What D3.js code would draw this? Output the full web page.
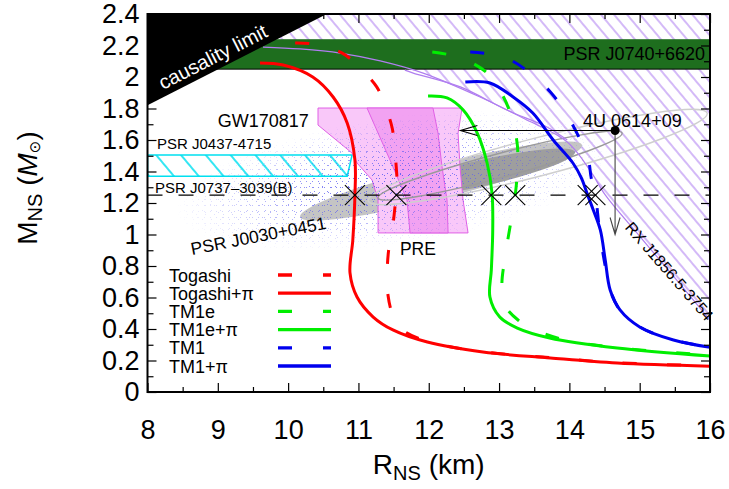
<!DOCTYPE html>
<html>
<head>
<meta charset="utf-8">
<script src="https://cdn.jsdelivr.net/npm/d3@7"></script>
<style>
  body { margin: 0; background: #fff; }
  svg { display: block; font-family: "Liberation Sans", Arial, Helvetica, sans-serif; }
</style>
</head>
<body>
<svg id="chart" width="729" height="489"></svg>
<script>
// --- values: [radius (km), mass (Msun)]
const togashi = [[10.10,2.216],[10.34,2.21],[10.77,2.152],[11.02,2.057],[11.26,1.937],[11.39,1.803],[11.48,1.676],[11.53,1.473],[11.55,1.295],[11.53,1.219],[11.49,1.06],[11.43,0.902],[11.41,0.775],[11.42,0.616],[11.49,0.489],[11.63,0.394],[12.02,0.317],[12.77,0.256],[13.73,0.218],[14.68,0.186],[16.0,0.166]]
const togashiPi = [[9.60,2.089],[9.93,2.076],[10.35,2.0],[10.64,1.873],[10.84,1.708],[10.95,1.473],[10.95,1.251],[10.92,0.965],[10.88,0.756],[10.98,0.603],[11.21,0.476],[11.49,0.394],[11.98,0.317],[12.77,0.254],[13.73,0.216],[14.68,0.184],[16.0,0.164]]
const tm1e = [[12.05,2.159],[12.30,2.14],[12.59,2.095],[12.83,2.025],[13.01,1.917],[13.16,1.771],[13.26,1.568],[13.26,1.41],[13.23,1.251],[13.16,1.06],[13.09,0.87],[13.04,0.679],[13.08,0.552],[13.27,0.457],[13.51,0.394],[13.94,0.33],[14.68,0.281],[16.0,0.234]]
const tm1ePi = [[11.99,1.879],[12.26,1.867],[12.49,1.79],[12.69,1.644],[12.83,1.454],[12.90,1.263],[12.91,1.029],[12.89,0.775],[12.87,0.603],[13.01,0.476],[13.26,0.406],[13.72,0.343],[14.68,0.279],[16.0,0.228]]
const tm1 = [[12.59,2.159],[12.87,2.146],[13.16,2.108],[13.44,2.025],[13.73,1.905],[13.94,1.778],[14.12,1.632],[14.27,1.473],[14.31,1.36],[14.37,1.25],[14.42,1.06],[14.47,0.902],[14.51,0.80],[14.58,0.648],[14.72,0.521],[15.0,0.413],[15.48,0.33],[16.0,0.285]]
const tm1Pi = [[12.52,1.968],[12.87,1.962],[13.20,1.873],[13.48,1.771],[13.77,1.60],[14.05,1.454],[14.17,1.36],[14.26,1.25],[14.34,1.156],[14.44,1.029],[14.51,0.838],[14.58,0.648],[14.72,0.521],[15.0,0.413],[15.48,0.33],[16.0,0.284]]

const seriesNames = ['Togashi', 'Togashi+\u03c0', 'TM1e', 'TM1e+\u03c0', 'TM1', 'TM1+\u03c0']
const seriesData = [togashi, togashiPi, tm1e, tm1ePi, tm1, tm1Pi]
const seriesColors = ['#ff0000', '#ff0000', '#00ee00', '#00ee00', '#0000ee', '#0000ee']
const seriesDashed = [true, false, true, false, true, false]

// observational constraints
const causalityLine = [[8, 1.82], [10.55, 2.4]]
const j0740Mass = [2.05, 2.24]
const j0437Box = [[8, 1.505], [10.91, 1.505], [10.84, 1.37], [8, 1.37]]
const j0737Mass = 1.25
const crossR = [10.95, 11.54, 12.89, 13.23, 14.26, 14.37]
const rxBoundary = [[9.643,2.19],[10.17,2.178],[10.74,2.152],[11.31,2.102],[11.92,2.025],[12.73,1.873],[13.34,1.74],[13.97,1.587],[14.29,1.41],[14.51,1.251],[15.01,0.984],[15.50,0.724],[16.0,0.457]]
const rxInner = [[11.66,2.044],[11.78,2.025],[12.45,1.937],[13.11,1.79],[13.68,1.683],[13.97,1.60]]
const preOuter = [[10.425,1.803],[12.474,1.803],[12.417,1.644],[12.445,1.429],[12.488,1.219],[12.559,1.01],[11.279,1.01],[11.279,1.219],[11.194,1.346],[10.98,1.454],[10.909,1.517],[10.425,1.695]]
const preInner = [[11.122,1.803],[12.06,1.803],[12.132,1.644],[12.189,1.429],[12.26,1.219],[12.275,1.01],[11.734,1.01],[11.691,1.219],[11.449,1.473],[11.279,1.644]]
const j0030Outer = [[10.17,1.111],[14.18,1.568]]
const j0030Inner = [[11.38,1.251],[14.08,1.524]]
const u0614Inner = [[11.28,1.232],[14.75,1.644]]
const u0614Outer = [[11.14,1.213],[15.96,1.771]]
const u0614Point = [14.65, 1.66]
const u0614ArrowR = 12.45
const rxArrowM = 1.0
const gwCloudCentre = [11.5, 1.34]

const xTicks = d3.range(8, 16.01, 1)
const xMinor = d3.range(8.5, 16, 1)
const yTicks = d3.range(0, 2.41, 0.2)
const yMinor = d3.range(0.1, 2.4, 0.2)

// --- setup
const svg = d3.select('#chart')
const x = d3.scaleLinear().domain([8, 16]).range([147.5, 710])
const y = d3.scaleLinear().domain([0, 2.4]).range([392, 14])
const px = ([r, m]) => [x(r), y(m)]
const poly = d3.line().x(d => x(d[0])).y(d => y(d[1]))

const defs = svg.append('defs')
defs.append('clipPath').attr('id', 'plot')
  .append('rect').attr('x', x(8)).attr('y', y(2.4))
  .attr('width', x(16) - x(8)).attr('height', y(0) - y(2.4))

// hatch patterns, vertical lines rotated into "\" direction
const hatch = (id, gap, colour, width) => {
  const p = defs.append('pattern').attr('id', id)
    .attr('patternUnits', 'userSpaceOnUse')
    .attr('width', gap).attr('height', gap)
    .attr('patternTransform', 'rotate(-40)')
  p.append('line').attr('x1', 1).attr('y1', -1).attr('x2', 1).attr('y2', gap + 1)
    .attr('stroke', colour).attr('stroke-width', width)
}
hatch('purpleHatch', 10, '#a873f0', 1)
hatch('cyanHatch', 19, '#00e0f0', 1.6)

// scattered posterior samples as two sparse dot tiles of different size
const dots = (id, size, pts) => {
  const p = defs.append('pattern').attr('id', id)
    .attr('patternUnits', 'userSpaceOnUse').attr('width', size).attr('height', size)
  pts.forEach(([a, b]) => p.append('rect').attr('x', a).attr('y', b)
    .attr('width', 1).attr('height', 1).attr('fill', '#5e5ef2'))
}
dots('dotsA', 6, [[0, 1]])
dots('dotsB', 9, [[4, 3], [7, 7]])
dots('dotsC', 13, [[2, 9], [10, 4]])
const grad = defs.append('radialGradient').attr('id', 'cloudFade')
grad.append('stop').attr('offset', '0%').attr('stop-color', '#fff').attr('stop-opacity', 0.95)
grad.append('stop').attr('offset', '40%').attr('stop-color', '#fff').attr('stop-opacity', 0.7)
grad.append('stop').attr('offset', '100%').attr('stop-color', '#fff').attr('stop-opacity', 0)

const g = svg.append('g').attr('clip-path', 'url(#plot)')

// RX J1856 hatched region
g.append('path')
  .attr('d', poly([[8, 2.19], ...rxBoundary, [16, 2.4], [8, 2.4]]) + 'Z')
  .attr('fill', 'url(#purpleHatch)')

// PSR J0740+6620 band
g.append('rect')
  .attr('x', x(8)).attr('width', x(16) - x(8))
  .attr('y', y(j0740Mass[1])).attr('height', y(j0740Mass[0]) - y(j0740Mass[1]))
  .attr('fill', '#1e6e1e')
g.append('line')
  .attr('x1', x(8)).attr('x2', x(16)).attr('y1', y(j0740Mass[0])).attr('y2', y(j0740Mass[0]))
  .attr('stroke', '#000').attr('stroke-width', 1)

// causality limit
g.append('path')
  .attr('d', poly([...causalityLine, [8, 2.4]]) + 'Z')
  .attr('fill', '#000')

// PSR J0437-4715
g.append('path').attr('d', poly(j0437Box) + 'Z')
  .attr('fill', 'url(#cyanHatch)').attr('stroke', '#00e0f0').attr('stroke-width', 1.5)

// ellipse from its two tips, minor radius in pixels
const ellipse = (sel, tips, semiMinor) => {
  const [a, b] = tips.map(px)
  const cx = (a[0] + b[0]) / 2, cy = (a[1] + b[1]) / 2
  const ang = Math.atan2(b[1] - a[1], b[0] - a[0]) * 180 / Math.PI
  return sel.append('ellipse')
    .attr('cx', cx).attr('cy', cy)
    .attr('rx', Math.hypot(b[0] - a[0], b[1] - a[1]) / 2).attr('ry', semiMinor)
    .attr('transform', `rotate(${ang},${cx},${cy})`)
}

// PSR J0030+0451
ellipse(g, j0030Outer, 17).attr('fill', '#c4c4c4')
ellipse(g, j0030Inner, 13).attr('fill', '#9e9e9e')

// PRE / GW170817 regions
g.append('path').attr('d', poly(preOuter) + 'Z')
  .attr('fill', '#f9c8f9').attr('stroke', '#e060e6').attr('stroke-width', 1)
g.append('path').attr('d', poly(preInner) + 'Z')
  .attr('fill', '#f2a2f2').attr('stroke', '#e060e6').attr('stroke-width', 1)

// GW170817 samples cloud
const [gcx, gcy] = px(gwCloudCentre)
const cloudMask = defs.append('mask').attr('id', 'cloudMask')
cloudMask.append('ellipse').attr('cx', gcx).attr('cy', gcy).attr('rx', 220).attr('ry', 64)
  .attr('transform', `rotate(-8,${gcx},${gcy})`).attr('fill', 'url(#cloudFade)')
const cloud = g.append('g').attr('mask', 'url(#cloudMask)')
;['dotsA', 'dotsB', 'dotsC'].forEach(id => {
  cloud.append('rect').attr('x', gcx - 240).attr('y', gcy - 110).attr('width', 480).attr('height', 220)
    .attr('fill', `url(#${id})`)
})

// 4U 0614+09 contours
ellipse(g, u0614Outer, 19).attr('fill', 'none').attr('stroke', '#cfcfcf').attr('stroke-width', 1.5)
ellipse(g, u0614Inner, 12).attr('fill', 'none').attr('stroke', '#9a9a9a').attr('stroke-width', 1.5)

// thin RX J1856 boundary curves
const smooth = d3.line().x(d => x(d[0])).y(d => y(d[1])).curve(d3.curveCatmullRom.alpha(0.5))
g.append('path').attr('d', smooth(rxBoundary))
  .attr('fill', 'none').attr('stroke', '#b07ef0').attr('stroke-width', 1.2)
g.append('path').attr('d', smooth(rxInner))
  .attr('fill', 'none').attr('stroke', '#b07ef0').attr('stroke-width', 1.2)

// PSR J0737-3039(B) mass
g.append('line')
  .attr('x1', x(8)).attr('x2', x(16)).attr('y1', y(j0737Mass)).attr('y2', y(j0737Mass))
  .attr('stroke', '#000').attr('stroke-width', 1.4).attr('stroke-dasharray', '15,16')

// text annotations
const label = (txt, r, m, size, opts = {}) => {
  const [tx, ty] = px([r, m])
  return svg.append('text')
    .attr('x', tx).attr('y', ty)
    .attr('font-size', size)
    .attr('fill', opts.fill || '#000')
    .attr('text-anchor', opts.anchor || 'start')
    .attr('transform', opts.rotate ? `rotate(${opts.rotate},${tx},${ty})` : null)
    .text(txt)
}
label('causality limit', 8.22, 1.917, 20, {fill: '#fff', rotate: -27})
label('PSR J0740+6620', 15.93, 2.105, 18, {anchor: 'end'})
label('GW170817', 9.0, 1.683, 18)
label('PSR J0437-4715', 8.135, 1.543, 15)
label('PSR J0737\u20133039(B)', 8.107, 1.263, 15)
label('PSR J0030+0451', 8.633, 0.87, 17.5, {rotate: -11})
label('PRE', 11.59, 0.87, 17.5)
label('4U 0614+09', 14.195, 1.683, 18)
label('RX J1856.5-3754', 14.78, 1.041, 16, {rotate: 49})

// EoS curves
const curves = svg.append('g').attr('clip-path', 'url(#plot)')
seriesData.forEach((d, i) => {
  curves.append('path').attr('d', smooth(d))
    .attr('fill', 'none')
    .attr('stroke', seriesColors[i]).attr('stroke-width', 3)
    .attr('stroke-dasharray', seriesDashed[i] ? '14,30' : null)
})

// crossings with the 1.25 Msun line
crossR.forEach(r => {
  const [cx, cy] = px([r, j0737Mass])
  svg.append('path')
    .attr('d', `M${cx - 10},${cy - 10}L${cx + 10},${cy + 10}M${cx - 10},${cy + 10}L${cx + 10},${cy - 10}`)
    .attr('stroke', '#000').attr('stroke-width', 1.1)
})

// 4U 0614+09 limits
const [ux, uy] = px(u0614Point)
const ax = x(u0614ArrowR), ay = y(rxArrowM)
svg.append('path')
  .attr('d', `M${ux},${uy}L${ax},${uy}M${ax + 17},${uy - 5}L${ax},${uy}L${ax + 17},${uy + 5}`)
  .attr('fill', 'none').attr('stroke', '#000').attr('stroke-width', 1.1)
svg.append('path')
  .attr('d', `M${ux},${uy}L${ux},${ay}M${ux - 5},${ay - 17}L${ux},${ay}L${ux + 5},${ay - 17}`)
  .attr('fill', 'none').attr('stroke', '#444').attr('stroke-width', 1.1)
svg.append('circle').attr('cx', ux).attr('cy', uy).attr('r', 4.5).attr('fill', '#000')

// legend
const legend = svg.append('g').attr('transform', 'translate(169,275)')
seriesNames.forEach((name, i) => {
  const row = legend.append('g').attr('transform', `translate(0,${i * 18.2})`)
  row.append('text').attr('x', 0).attr('y', 6.5).attr('font-size', 18).text(name)
  row.append('line').attr('x1', 109).attr('x2', 162).attr('y1', 0).attr('y2', 0)
    .attr('stroke', seriesColors[i]).attr('stroke-width', 3.3)
    .attr('stroke-dasharray', seriesDashed[i] ? '14,31' : null)
})

// axes: inward ticks on all four sides
const fmt = d => +d.toFixed(1)
const axis = (gen, tr, vals, size, labelled, pad) => {
  const a = svg.append('g').attr('transform', tr)
    .call(gen.tickValues(vals).tickSizeInner(-size).tickSizeOuter(0)
      .tickPadding(pad || 0).tickFormat(labelled ? fmt : ''))
  a.select('.domain').remove()
  a.selectAll('line').attr('stroke', '#000').attr('stroke-width', 1.2)
  a.selectAll('text').attr('font-size', 27).attr('font-family', '"Liberation Sans", Arial, sans-serif').attr('fill', '#000')
  return a
}
axis(d3.axisBottom(x), `translate(0,${y(0)})`, xTicks, 9, true, 28)
axis(d3.axisBottom(x), `translate(0,${y(0)})`, xMinor, 5)
axis(d3.axisTop(x), `translate(0,${y(2.4)})`, xTicks, 9)
axis(d3.axisTop(x), `translate(0,${y(2.4)})`, xMinor, 5)
axis(d3.axisLeft(y), `translate(${x(8)},0)`, yTicks, 9, true, 8)
axis(d3.axisLeft(y), `translate(${x(8)},0)`, yMinor, 6)
axis(d3.axisRight(y), `translate(${x(16)},0)`, yTicks, 9)
axis(d3.axisRight(y), `translate(${x(16)},0)`, yMinor, 6)

svg.append('rect')
  .attr('x', x(8)).attr('y', y(2.4)).attr('width', x(16) - x(8)).attr('height', y(0) - y(2.4))
  .attr('fill', 'none').attr('stroke', '#000').attr('stroke-width', 2)

// axis titles
const xt = svg.append('text').attr('x', (x(8) + x(16)) / 2).attr('y', 474)
  .attr('text-anchor', 'middle').attr('font-size', 28)
xt.append('tspan').text('R')
xt.append('tspan').attr('font-size', 20).attr('baseline-shift', '-6').text('NS')
xt.append('tspan').text(' (km)')

const yt = svg.append('text').attr('transform', 'translate(37,188) rotate(-90)')
  .attr('text-anchor', 'middle').attr('font-size', 28)
yt.append('tspan').text('M')
yt.append('tspan').attr('font-size', 20).attr('baseline-shift', '-5').text('NS')
yt.append('tspan').text(' (')
yt.append('tspan').attr('font-style', 'italic').text('M')
yt.append('tspan').attr('font-size', 15).attr('baseline-shift', '-3').attr('font-family', '"DejaVu Sans"').text('\u2299')
yt.append('tspan').text(')')
</script>
</body>
</html>
